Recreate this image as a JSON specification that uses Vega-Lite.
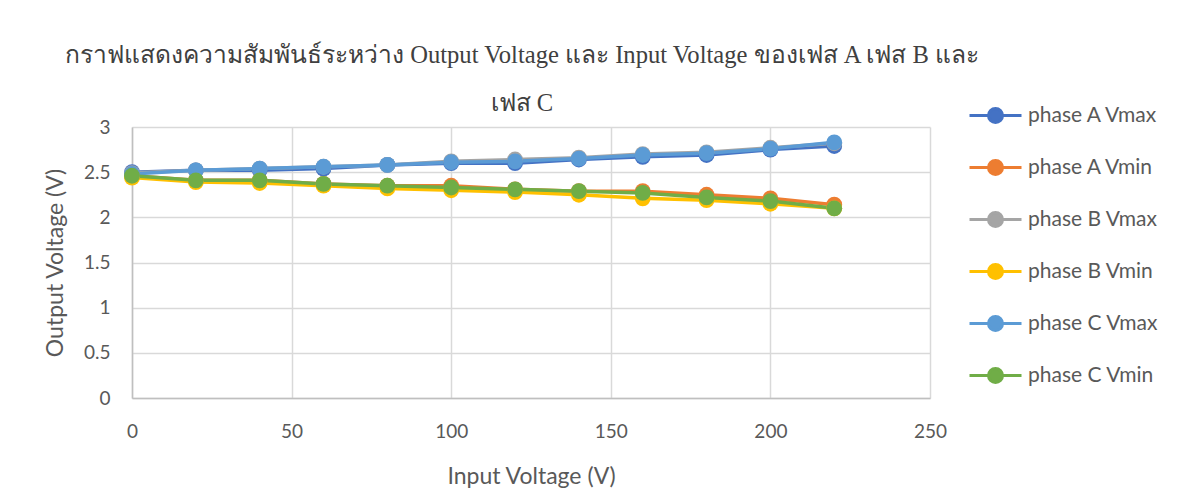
{
  "$schema": "https://vega.github.io/schema/vega-lite/v6.json",
  "autosize": "none",
  "width": 798,
  "height": 271,
  "padding": {"left": 132, "top": 127, "right": 252, "bottom": 106},
  "background": "white",
  "title": {
    "text": ["กราฟแสดงความสัมพันธ์ระหว่าง Output Voltage และ Input Voltage ของเฟส A  เฟส B และ", "เฟส C"],
    "font": "Liberation Serif, serif",
    "fontSize": 24.6,
    "fontWeight": "normal",
    "color": "#404040",
    "lineHeight": 48,
    "anchor": "middle",
    "baseline": "top",
    "dx": -9,
    "dy": 33,
    "offset": 4
  },
  "data": {
    "values": [
      {"x": 0, "s": "phase A Vmax", "v": 2.50}, {"x": 20, "s": "phase A Vmax", "v": 2.52}, {"x": 40, "s": "phase A Vmax", "v": 2.52}, {"x": 60, "s": "phase A Vmax", "v": 2.54}, {"x": 80, "s": "phase A Vmax", "v": 2.58}, {"x": 100, "s": "phase A Vmax", "v": 2.60}, {"x": 120, "s": "phase A Vmax", "v": 2.60}, {"x": 140, "s": "phase A Vmax", "v": 2.64}, {"x": 160, "s": "phase A Vmax", "v": 2.67}, {"x": 180, "s": "phase A Vmax", "v": 2.69}, {"x": 200, "s": "phase A Vmax", "v": 2.75}, {"x": 220, "s": "phase A Vmax", "v": 2.79},
      {"x": 0, "s": "phase A Vmin", "v": 2.46}, {"x": 20, "s": "phase A Vmin", "v": 2.41}, {"x": 40, "s": "phase A Vmin", "v": 2.41}, {"x": 60, "s": "phase A Vmin", "v": 2.37}, {"x": 80, "s": "phase A Vmin", "v": 2.35}, {"x": 100, "s": "phase A Vmin", "v": 2.35}, {"x": 120, "s": "phase A Vmin", "v": 2.31}, {"x": 140, "s": "phase A Vmin", "v": 2.29}, {"x": 160, "s": "phase A Vmin", "v": 2.29}, {"x": 180, "s": "phase A Vmin", "v": 2.25}, {"x": 200, "s": "phase A Vmin", "v": 2.21}, {"x": 220, "s": "phase A Vmin", "v": 2.14},
      {"x": 0, "s": "phase B Vmax", "v": 2.49}, {"x": 20, "s": "phase B Vmax", "v": 2.52}, {"x": 40, "s": "phase B Vmax", "v": 2.54}, {"x": 60, "s": "phase B Vmax", "v": 2.56}, {"x": 80, "s": "phase B Vmax", "v": 2.58}, {"x": 100, "s": "phase B Vmax", "v": 2.62}, {"x": 120, "s": "phase B Vmax", "v": 2.64}, {"x": 140, "s": "phase B Vmax", "v": 2.66}, {"x": 160, "s": "phase B Vmax", "v": 2.70}, {"x": 180, "s": "phase B Vmax", "v": 2.72}, {"x": 200, "s": "phase B Vmax", "v": 2.77}, {"x": 220, "s": "phase B Vmax", "v": 2.82},
      {"x": 0, "s": "phase B Vmin", "v": 2.44}, {"x": 20, "s": "phase B Vmin", "v": 2.39}, {"x": 40, "s": "phase B Vmin", "v": 2.38}, {"x": 60, "s": "phase B Vmin", "v": 2.35}, {"x": 80, "s": "phase B Vmin", "v": 2.32}, {"x": 100, "s": "phase B Vmin", "v": 2.30}, {"x": 120, "s": "phase B Vmin", "v": 2.28}, {"x": 140, "s": "phase B Vmin", "v": 2.25}, {"x": 160, "s": "phase B Vmin", "v": 2.21}, {"x": 180, "s": "phase B Vmin", "v": 2.19}, {"x": 200, "s": "phase B Vmin", "v": 2.15}, {"x": 220, "s": "phase B Vmin", "v": 2.10},
      {"x": 0, "s": "phase C Vmax", "v": 2.48}, {"x": 20, "s": "phase C Vmax", "v": 2.52}, {"x": 40, "s": "phase C Vmax", "v": 2.54}, {"x": 60, "s": "phase C Vmax", "v": 2.56}, {"x": 80, "s": "phase C Vmax", "v": 2.58}, {"x": 100, "s": "phase C Vmax", "v": 2.61}, {"x": 120, "s": "phase C Vmax", "v": 2.62}, {"x": 140, "s": "phase C Vmax", "v": 2.65}, {"x": 160, "s": "phase C Vmax", "v": 2.69}, {"x": 180, "s": "phase C Vmax", "v": 2.71}, {"x": 200, "s": "phase C Vmax", "v": 2.76}, {"x": 220, "s": "phase C Vmax", "v": 2.83},
      {"x": 0, "s": "phase C Vmin", "v": 2.46}, {"x": 20, "s": "phase C Vmin", "v": 2.41}, {"x": 40, "s": "phase C Vmin", "v": 2.41}, {"x": 60, "s": "phase C Vmin", "v": 2.37}, {"x": 80, "s": "phase C Vmin", "v": 2.35}, {"x": 100, "s": "phase C Vmin", "v": 2.33}, {"x": 120, "s": "phase C Vmin", "v": 2.31}, {"x": 140, "s": "phase C Vmin", "v": 2.29}, {"x": 160, "s": "phase C Vmin", "v": 2.27}, {"x": 180, "s": "phase C Vmin", "v": 2.22}, {"x": 200, "s": "phase C Vmin", "v": 2.18}, {"x": 220, "s": "phase C Vmin", "v": 2.10}
    ]
  },
  "mark": {"type": "line", "strokeWidth": 3.5, "point": {"filled": true, "size": 250, "opacity": 1}},
  "encoding": {
    "x": {
      "field": "x", "type": "quantitative",
      "scale": {"domain": [0, 250], "nice": false},
      "axis": {"values": [0, 50, 100, 150, 200, 250], "title": "Input Voltage (V)", "titlePadding": 24, "labelPadding": 24}
    },
    "y": {
      "field": "v", "type": "quantitative",
      "scale": {"domain": [0, 3], "nice": false, "zero": true},
      "axis": {"values": [0, 0.5, 1, 1.5, 2, 2.5, 3], "format": "~g", "title": "Output Voltage (V)", "titlePadding": 16, "labelPadding": 22}
    },
    "color": {
      "field": "s", "type": "nominal",
      "scale": {
        "domain": ["phase A Vmax", "phase A Vmin", "phase B Vmax", "phase B Vmin", "phase C Vmax", "phase C Vmin"],
        "range": ["#4472C4", "#ED7D31", "#A5A5A5", "#FFC000", "#5B9BD5", "#70AD47"]
      },
      "legend": {
        "title": null,
        "orient": "none",
        "legendX": 836,
        "legendY": -39,
        "symbolType": "M-1,0L1,0M-0.27,0A0.27,0.27,0,1,1,0.27,0A0.27,0.27,0,1,1,-0.27,0Z",
        "symbolSize": 2704,
        "symbolStrokeWidth": 3,
        "labelFont": "Lato",
        "labelFontSize": 21,
        "labelColor": "#595959",
        "labelOffset": 5,
        "rowPadding": 11,
        "encode": {"symbols": {"update": {"fill": {"scale": "color", "field": "value"}, "stroke": {"scale": "color", "field": "value"}, "opacity": {"value": 1}}}}
      }
    },
    "order": {"field": "x", "type": "quantitative"}
  },
  "config": {
    "view": {"stroke": null},
    "axis": {
      "labelFont": "Lato",
      "labelFontSize": 19,
      "labelColor": "#595959",
      "labelFlush": false,
      "titleFont": "Lato",
      "titleFontSize": 23,
      "titleFontWeight": "normal",
      "titleColor": "#595959",
      "gridColor": "#d9d9d9",
      "gridWidth": 1.5,
      "domainColor": "#bfbfbf",
      "domainWidth": 1.5,
      "ticks": false
    }
  }
}
